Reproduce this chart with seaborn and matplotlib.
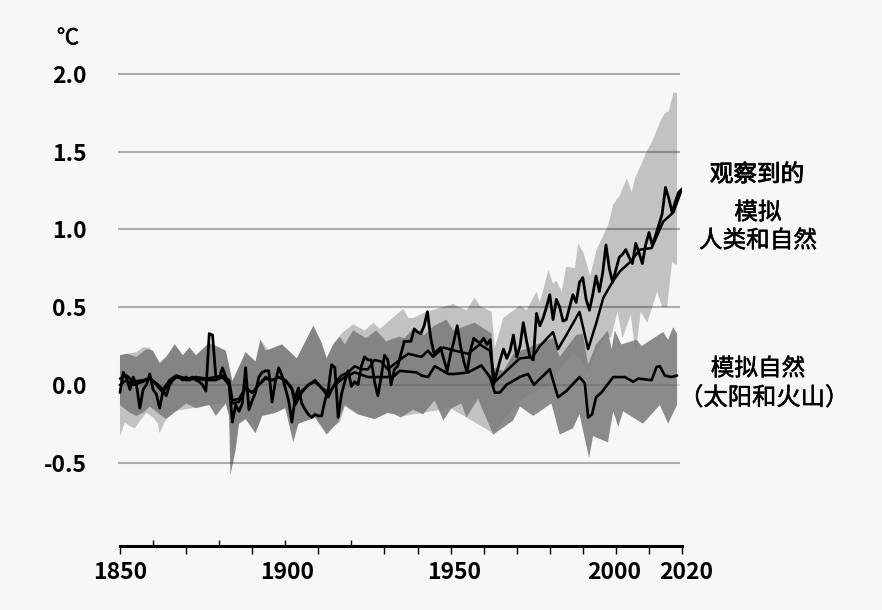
import matplotlib
matplotlib.use("Agg")
import matplotlib.pyplot as plt
import matplotlib.lines as mlines
import matplotlib.patheffects as pe
from matplotlib.transforms import ScaledTranslation
import seaborn as sns

obs_vals = [
    -0.05, 0.08, 0.04, -0.03, 0.05, 0.0, -0.15, -0.03, 0.0, 0.07,
    -0.03, -0.06, -0.15, -0.04, -0.07, 0.0, 0.03, 0.05, 0.05, 0.03,
    0.05, 0.03, 0.05, 0.03, 0.02, 0.0, -0.04, 0.33, 0.32, 0.05,
    0.04, 0.11, 0.05, 0.0, -0.24, -0.13, -0.17, -0.12, 0.11, -0.16,
    -0.1, -0.05, 0.05, 0.08, 0.09, 0.09, -0.11, 0.02, 0.11, 0.06,
    -0.02, -0.1, -0.24, -0.08, -0.02, -0.12, -0.16, -0.19, -0.21, -0.19,
    -0.2, -0.2, -0.1, -0.03, 0.13, 0.11, -0.21, -0.06, 0.02, 0.09,
    -0.01, 0.02, 0.0, 0.12, 0.18, 0.16, 0.16, 0.02, -0.07, 0.05,
    0.19, 0.16, 0.0, 0.1, 0.12, 0.2, 0.28, 0.28, 0.28, 0.36,
    0.34, 0.33, 0.38, 0.47, 0.3, 0.2, 0.22, 0.24, 0.16, 0.09,
    0.2, 0.28, 0.38, 0.25, 0.15, 0.08, 0.22, 0.3, 0.28, 0.27,
    0.3, 0.26, 0.29, 0.0, 0.08, 0.16, 0.23, 0.17, 0.22, 0.32,
    0.18, 0.25, 0.4, 0.28, 0.18, 0.16, 0.46, 0.38, 0.43, 0.5,
    0.58, 0.42, 0.55, 0.5, 0.41, 0.42, 0.5, 0.58, 0.53, 0.66,
    0.69, 0.55, 0.48, 0.58, 0.7, 0.6, 0.72, 0.9, 0.75, 0.66,
    0.74, 0.82, 0.84, 0.87, 0.82, 0.78, 0.91, 0.85, 0.78, 0.9,
    0.98, 0.9, 0.96, 1.03, 1.1, 1.27, 1.2, 1.11, 1.18, 1.24,
    1.26]
obs_years = list(range(1850, 1850 + len(obs_vals)))

human_mean = [(1850,0.0),(1852,0.03),(1854,0.0),(1857,0.02),(1859,0.05),(1861,0.0),(1863,-0.05),(1865,0.02),(1867,0.05),(1870,0.03),(1873,0.04),(1876,0.03),(1879,0.03),(1881,0.05),(1883,0.0),(1884,-0.12),(1886,-0.11),(1888,-0.02),(1890,-0.05),(1892,0.0),(1894,0.05),(1896,0.03),(1898,0.05),(1900,0.03),(1902,-0.03),(1903,-0.13),(1905,-0.05),(1907,0.0),(1909,0.03),(1911,-0.02),(1913,-0.08),(1915,0.01),(1917,0.06),(1919,0.08),(1921,0.12),(1923,0.1),(1925,0.1),(1927,0.16),(1929,0.15),(1931,0.1),(1934.6,0.16),(1937.2,0.2),(1941.2,0.18),(1943.2,0.22),(1944.7,0.18),(1947.8,0.24),(1951.3,0.22),(1955.3,0.2),(1958.8,0.26),(1961.9,0.22),(1963.4,0.02),(1966.9,0.09),(1970.9,0.17),(1974.9,0.18),(1977,0.25),(1981,0.34),(1982.5,0.23),(1985,0.32),(1989,0.47),(1991.6,0.23),(1994.1,0.4),(1996.2,0.56),(1999.2,0.67),(2001.2,0.73),(2004.3,0.79),(2007.3,0.87),(2010.8,0.88),(2014.3,1.05),(2017.4,1.11),(2020,1.26)]

natural_mean = [(1850,0.04),(1852,0.06),(1854,0.02),(1857,0.03),(1859,0.04),(1861,0.01),(1863,-0.03),(1865,0.03),(1867,0.06),(1870,0.04),(1873,0.05),(1876,0.04),(1879,0.05),(1881,0.06),(1883,0.03),(1884,-0.1),(1886,-0.09),(1888,-0.02),(1890,-0.05),(1892,0.0),(1894,0.04),(1896,0.03),(1898,0.05),(1900,0.03),(1902,-0.02),(1903,-0.1),(1905,-0.04),(1907,0.0),(1909,0.02),(1911,-0.02),(1913,-0.05),(1915,0.0),(1918,0.05),(1921,0.08),(1925,0.05),(1928,0.05),(1932.6,0.05),(1934.6,0.09),(1939.7,0.08),(1941.2,0.06),(1943.2,0.05),(1945.2,0.12),(1949.3,0.07),(1951.3,0.07),(1955.3,0.08),(1959.3,0.125),(1961.9,0.05),(1963.4,-0.05),(1964.9,-0.05),(1966.9,0.0),(1970.9,0.05),(1973.4,0.07),(1975.2,0.0),(1980,0.1),(1982.5,-0.08),(1985,-0.04),(1989,0.05),(1990.6,0.01),(1991.6,-0.21),(1992.8,-0.19),(1994,-0.08),(1995.6,-0.05),(1999.2,0.05),(2002.7,0.05),(2005.2,0.02),(2006.8,0.04),(2010.8,0.03),(2012.3,0.115),(2013.3,0.12),(2014.8,0.06),(2016.8,0.05),(2018.5,0.06)]

human_upper = [(1850,0.19),(1852,0.2),(1855,0.21),(1857,0.24),(1859,0.24),(1862,0.14),(1864,0.18),(1866.6,0.26),(1869,0.19),(1871,0.24),(1873,0.19),(1877,0.27),(1882,0.22),(1884,0.03),(1888,0.21),(1891,0.15),(1892.5,0.29),(1895,0.22),(1899,0.26),(1903.5,0.17),(1908.5,0.38),(1911,0.27),(1912.5,0.17),(1914.5,0.26),(1917,0.33),(1920.5,0.39),(1924,0.35),(1926.6,0.4),(1928.6,0.36),(1934.6,0.47),(1935.7,0.49),(1937.2,0.43),(1938.7,0.43),(1942.7,0.47),(1950.8,0.52),(1954.8,0.48),(1957.3,0.56),(1958.8,0.51),(1962.4,0.47),(1963.4,0.24),(1965.9,0.43),(1971,0.51),(1973,0.48),(1976,0.6),(1977,0.53),(1979.6,0.74),(1981,0.65),(1982,0.67),(1983.6,0.6),(1985,0.76),(1987.6,0.75),(1988.6,0.91),(1990.2,0.85),(1992.2,0.7),(1994.2,0.87),(1997.7,1.03),(1999.2,1.16),(2001.2,1.22),(2003.3,1.33),(2004.8,1.24),(2005.8,1.33),(2007.3,1.4),(2009.3,1.5),(2011.3,1.58),(2013.3,1.69),(2014.9,1.75),(2016,1.76),(2017.4,1.88),(2018.5,1.88)]

human_lower = [(1850,-0.33),(1851.5,-0.24),(1852.5,-0.26),(1854.5,-0.28),(1856.5,-0.22),(1858,-0.18),(1860,-0.21),(1861.5,-0.25),(1862,-0.31),(1864,-0.22),(1866,-0.17),(1869,-0.16),(1872,-0.15),(1877,-0.13),(1882,-0.12),(1883,-0.2),(1884,-0.5),(1886,-0.25),(1888,-0.22),(1891,-0.31),(1893,-0.2),(1897,-0.18),(1900,-0.15),(1902.4,-0.3),(1904,-0.25),(1909,-0.21),(1912.5,-0.3),(1916.5,-0.24),(1918,-0.14),(1922,-0.19),(1927,-0.22),(1931,-0.18),(1936,-0.2),(1950,-0.15),(1962,-0.3),(1963,-0.32),(1967,-0.2),(1971,-0.1),(1975,-0.05),(1980,0.0),(1983,0.1),(1987,0.2),(1990,0.15),(1991.6,0.08),(1993,0.15),(1995,0.25),(1997,0.32),(1998.5,0.3),(2000.5,0.47),(2002,0.3),(2004.5,0.45),(2006,0.2),(2007.5,0.47),(2009.5,0.4),(2012.5,0.6),(2014,0.5),(2015.5,0.5),(2017,0.79),(2018.5,0.77)]

natural_upper = [(1850,0.19),(1852,0.2),(1855,0.18),(1858,0.23),(1860,0.22),(1862,0.14),(1864,0.18),(1866.6,0.26),(1869,0.19),(1871,0.24),(1873,0.19),(1877,0.27),(1882,0.22),(1884,0.02),(1888,0.21),(1891,0.15),(1892.5,0.29),(1894,0.22),(1899,0.26),(1903.5,0.17),(1908.5,0.38),(1911,0.27),(1912.5,0.17),(1914.5,0.26),(1916.5,0.31),(1918,0.26),(1920.5,0.35),(1924.5,0.3),(1927.5,0.35),(1930.5,0.28),(1934.5,0.31),(1936,0.3),(1938.7,0.36),(1942,0.32),(1945,0.38),(1948.8,0.42),(1950.8,0.35),(1957.3,0.4),(1962.4,0.33),(1963,0.11),(1966,0.09),(1969,0.2),(1976,0.26),(1981,0.3),(1983,0.18),(1988,0.32),(1990,0.33),(1991.6,0.13),(1994,0.26),(1997.6,0.35),(1998.7,0.23),(1999.7,0.35),(2001.6,0.26),(2006.3,0.29),(2007.8,0.25),(2014.3,0.34),(2015.8,0.29),(2017.3,0.37),(2018.5,0.33)]

natural_lower = [(1850,-0.13),(1853,-0.18),(1855,-0.2),(1857,-0.18),(1859,-0.14),(1862,-0.19),(1864,-0.22),(1867,-0.17),(1870,-0.12),(1873,-0.15),(1877,-0.13),(1879,-0.2),(1882,-0.12),(1883,-0.2),(1883.4,-0.58),(1885,-0.42),(1886,-0.25),(1888,-0.22),(1891,-0.31),(1893,-0.2),(1897,-0.18),(1900,-0.15),(1902.4,-0.37),(1904,-0.25),(1909,-0.21),(1912.5,-0.32),(1916,-0.24),(1918,-0.13),(1922,-0.19),(1927,-0.22),(1931,-0.18),(1933,-0.19),(1935,-0.21),(1938.7,-0.16),(1941.7,-0.19),(1945.2,-0.1),(1947.8,-0.23),(1950.3,-0.15),(1953.3,-0.12),(1954.8,-0.21),(1958.3,-0.09),(1962.9,-0.32),(1968.9,-0.23),(1971,-0.14),(1975,-0.2),(1980.5,-0.12),(1983,-0.32),(1987,-0.28),(1989,-0.19),(1991.9,-0.47),(1993.1,-0.33),(1997.6,-0.37),(1999.2,-0.17),(2000.7,-0.27),(2002.2,-0.17),(2008.2,-0.25),(2013.3,-0.13),(2015.8,-0.25),(2018.5,-0.13)]

y_ticks = [2.0, 1.5, 1.0, 0.5, 0.0, -0.5]
y_labels = ["2.0", "1.5", "1.0", "0.5", "0.0", "-0.5"]
x_ticks = [1850,1860,1870,1880,1890,1900,1910,1920,1930,1940,1950,1960,1970,1980,1990,2000,2010,2020]
x_labelled = [1850, 1900, 1950, 2000, 2020]
x_up = [1860, 1880, 1900, 1920]

sns.set_theme(style="white")
plt.rcParams['font.family'] = ['Noto Sans CJK SC', 'DejaVu Sans']
BG = "#f7f7f7"
W, H = 882, 610
fig = plt.figure(figsize=(W/100, H/100), dpi=100, facecolor=BG)
ax = fig.add_axes([118/W, 1-546/H, (682-118)/W, (546-74)/H], facecolor=BG)
for s in ["top", "left", "right"]:
    ax.spines[s].set_visible(False)
ax.spines["bottom"].set_linewidth(2.2)
ax.spines["bottom"].set_color("black")

def band(upper, lower, **kw):
    pts = upper + lower[::-1]
    ax.fill([p[0] for p in pts], [p[1] for p in pts], lw=0, **kw)

band(human_upper, human_lower, color="#c2c2c2", zorder=1)
band(natural_upper, natural_lower, color="#7c7c7c", alpha=0.88, zorder=2)

for v in y_ticks:
    ax.plot([1849.4, 2019.4], [v, v], color="black", alpha=0.12 if v == 0 else 0.3,
            lw=1.5, zorder=3, clip_on=False, solid_capstyle="butt")

for pts, w in [(natural_mean, 1.9), (human_mean, 1.8)]:
    sns.lineplot(x=[p[0] for p in pts], y=[p[1] for p in pts], ax=ax, color="black",
                 lw=w, estimator=None, errorbar=None, zorder=4)
sns.lineplot(x=obs_years, y=obs_vals, ax=ax, color="black", lw=2.0, estimator=None, errorbar=None, zorder=5)
ax.set_xlim(1849.4, 2020)
ax.set_ylim(-1.037, 2.0)
ax.spines["bottom"].set_bounds(1850, 2020)
ax.set_xlabel("")
ax.set_ylabel("")

ax.set_xticks(x_ticks)
ax.set_xticklabels([str(t) if t in x_labelled else "" for t in x_ticks], fontsize=16.5, fontweight="bold", color="black")
ax.tick_params(axis="x", bottom=True, length=6, width=1.0, color="black", pad=5)
x_offsets = {1850: 0, 1900: 2, 1950: 4, 2000: -2, 2020: 4}
for t, tick in zip(x_ticks, ax.xaxis.get_major_ticks()):
    if t in x_up:
        tick.tick1line.set_marker(mlines.TICKUP)
        tick.tick1line.set_markersize(4)
    if t in x_offsets:
        tick.label1.set_transform(tick.label1.get_transform() + ScaledTranslation(x_offsets[t]/100, 0, fig.dpi_scale_trans))
ax.set_yticks(y_ticks)
ax.set_yticklabels(y_labels, fontsize=16.5, fontweight="bold", color="black")
ax.tick_params(axis="y", left=False, pad=16.5)

def px(x, y, s, heavy=0.35, **kw):
    fig.text(x/W, 1-y/H, s, ha="center", va="center", color="black",
             path_effects=[pe.withStroke(linewidth=heavy, foreground="black")], **kw)

px(68, 38, "℃", fontsize=16)
px(757, 175, "观察到的", heavy=0.6, fontsize=17)
px(758, 213, "模拟", fontsize=17)
px(758, 241, "人类和自然", fontsize=17)
px(758, 369, "模拟自然", fontsize=17)
px(764, 398, "（太阳和火山）", fontsize=17.5)

fig.savefig("out.png", dpi=100, facecolor=BG)
